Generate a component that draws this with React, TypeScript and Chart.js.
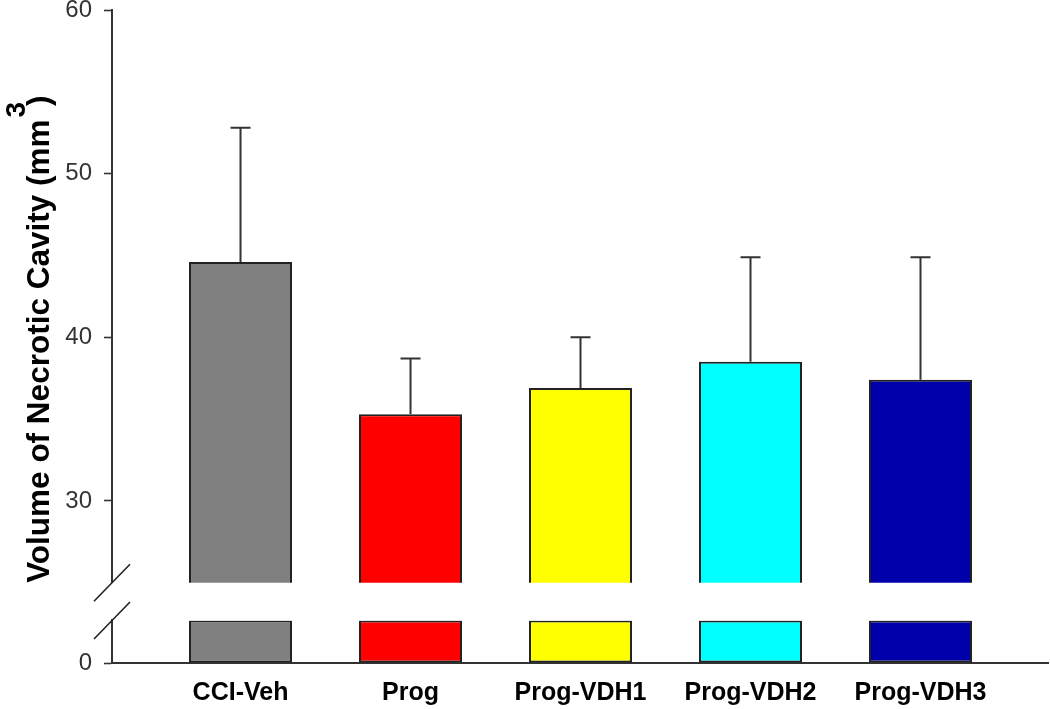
import React, { useEffect, useRef } from 'react';
import { Chart, registerables } from 'chart.js';

Chart.register(...registerables);

// ---- data ----
const categories = ['CCI-Veh', 'Prog', 'Prog-VDH1', 'Prog-VDH2', 'Prog-VDH3'];
const means = [44.6, 35.3, 36.9, 38.5, 37.4];
const errors = [8.2, 3.4, 3.1, 6.4, 7.5];
const barColors = ['#808080', '#FF0000', '#FFFF00', '#00FFFF', '#0000AA'];
const upperTicks = [30, 40, 50, 60];
const lowerTicks = [0];
const upperRange = [25, 60];
const lowerRange = [0, 2.6];
const gapSize = 2.3;
const yTitle = 'Volume of Necrotic Cavity (mm';
const ySup = '3';
const yTitleEnd = ')';

const FONT = '"Liberation Sans", Arial, Helvetica, sans-serif';

const decorPlugin = {
  id: 'decor',
  afterDatasetsDraw(chart: any) {
    const ctx = chart.ctx;
    const yHigh = chart.scales.yHigh;
    const meta = chart.getDatasetMeta(0);
    ctx.save();
    ctx.strokeStyle = '#333';
    ctx.lineWidth = 2;
    meta.data.forEach((bar: any, i: number) => {
      const x = bar.x;
      const y0 = yHigh.getPixelForValue(means[i]);
      const y1 = yHigh.getPixelForValue(means[i] + errors[i]);
      ctx.beginPath();
      ctx.moveTo(x, y0);
      ctx.lineTo(x, y1);
      ctx.moveTo(x - 10, y1);
      ctx.lineTo(x + 10, y1);
      ctx.stroke();
    });
    ctx.restore();
  },
  afterDraw(chart: any) {
    const ctx = chart.ctx;
    const yHigh = chart.scales.yHigh;
    const yLow = chart.scales.yLow;
    const ax = yHigh.right;
    const yb1 = yHigh.getPixelForValue(upperRange[0]);
    const yb2 = yLow.getPixelForValue(lowerRange[1]);
    ctx.save();
    ctx.strokeStyle = '#222';
    ctx.lineWidth = 1.6;
    [yb1, yb2].forEach((y) => {
      ctx.beginPath();
      ctx.moveTo(ax - 18, y + 18.5);
      ctx.lineTo(ax + 18, y - 18.5);
      ctx.stroke();
    });
    ctx.restore();

    // axis title
    ctx.save();
    ctx.fillStyle = '#000';
    ctx.translate(49, yb1);
    ctx.rotate(-Math.PI / 2);
    ctx.textAlign = 'left';
    ctx.textBaseline = 'alphabetic';
    ctx.font = `bold 31.5px ${FONT}`;
    ctx.fillText(yTitle, 0, 0);
    const w1 = ctx.measureText(yTitle).width;
    ctx.font = `bold 28px ${FONT}`;
    ctx.fillText(ySup, w1 + 2, -24);
    const w3 = ctx.measureText(ySup).width;
    ctx.font = `bold 31.5px ${FONT}`;
    ctx.fillText(yTitleEnd, w1 + w3 - 2, 0);
    ctx.restore();
  },
};

export default function App() {
  const ref = useRef<HTMLCanvasElement>(null);

  useEffect(() => {
    if (!ref.current) return;
    const highData = means.map((v, i) => ({ x: i, y: v }));
    const lowData = means.map((v, i) => ({ x: i, y: Math.min(v, lowerRange[1]) }));
    const yTickCommon = {
      color: '#333',
      font: { family: FONT, size: 24 },
      padding: 12,
    };
    const yGridCommon = {
      display: true,
      drawOnChartArea: false,
      drawTicks: true,
      tickLength: 8,
      tickWidth: 1.6,
      tickColor: '#333',
    };
    const yFit = (scale: any) => {
      scale.width = 47;
      scale.paddingTop = 0;
      scale.paddingBottom = 0;
    };
    const barCommon = {
      xAxisID: 'x',
      backgroundColor: barColors,
      borderColor: '#222',
      borderWidth: 2,
      borderSkipped: false,
      grouped: false,
      categoryPercentage: 1,
      barPercentage: 0.606,
    };
    const chart = new Chart(ref.current, {
      type: 'bar',
      data: {
        datasets: [
          { ...barCommon, data: highData, yAxisID: 'yHigh' },
          { ...barCommon, data: lowData, yAxisID: 'yLow' },
        ],
      } as any,
      options: {
        animation: false,
        responsive: true,
        maintainAspectRatio: false,
        layout: { padding: { left: 65, right: 2, top: 10, bottom: 2 } },
        plugins: { legend: { display: false }, tooltip: { enabled: false } },
        scales: {
          x: {
            type: 'linear',
            position: 'bottom',
            offset: false,
            min: -0.756,
            max: 4.75,
            afterBuildTicks: (scale: any) => {
              scale.ticks = categories.map((_, i) => ({ value: i }));
            },
            afterFit: (scale: any) => {
              scale.height = 44;
              scale.paddingLeft = 0;
              scale.paddingRight = 0;
            },
            ticks: {
              callback: (v: any) => categories[v] ?? '',
              color: '#000',
              font: { family: FONT, size: 25, weight: 'bold' },
              padding: 15,
              maxRotation: 0,
              autoSkip: false,
            },
            grid: { display: false, drawTicks: false, offset: false },
            border: { display: true, color: '#333', width: 2 },
          },
          yHigh: {
            type: 'linear',
            position: 'left',
            stack: 'y',
            stackWeight: upperRange[1] - upperRange[0],
            weight: 3,
            min: upperRange[0],
            max: upperRange[1],
            afterBuildTicks: (scale: any) => {
              scale.ticks = upperTicks.map((v) => ({ value: v }));
            },
            afterFit: yFit,
            ticks: yTickCommon,
            grid: yGridCommon,
            border: { display: true, color: '#333', width: 2 },
          },
          yGap: {
            type: 'linear',
            position: 'left',
            stack: 'y',
            stackWeight: gapSize,
            weight: 2,
            min: 0,
            max: 1,
            afterFit: yFit,
            ticks: { display: false },
            grid: { display: false, drawTicks: false },
            border: { display: false },
          },
          yLow: {
            type: 'linear',
            position: 'left',
            stack: 'y',
            stackWeight: lowerRange[1] - lowerRange[0],
            weight: 1,
            min: lowerRange[0],
            max: lowerRange[1],
            afterBuildTicks: (scale: any) => {
              scale.ticks = lowerTicks.map((v) => ({ value: v }));
            },
            afterFit: yFit,
            ticks: yTickCommon,
            grid: yGridCommon,
            border: { display: true, color: '#333', width: 2 },
          },
        },
      } as any,
      plugins: [decorPlugin],
    });
    return () => chart.destroy();
  }, []);

  return (
    <div style={{ position: 'fixed', left: 0, top: 0, width: 1050, height: 709, background: '#fff' }}>
      <canvas ref={ref} />
    </div>
  );
}
